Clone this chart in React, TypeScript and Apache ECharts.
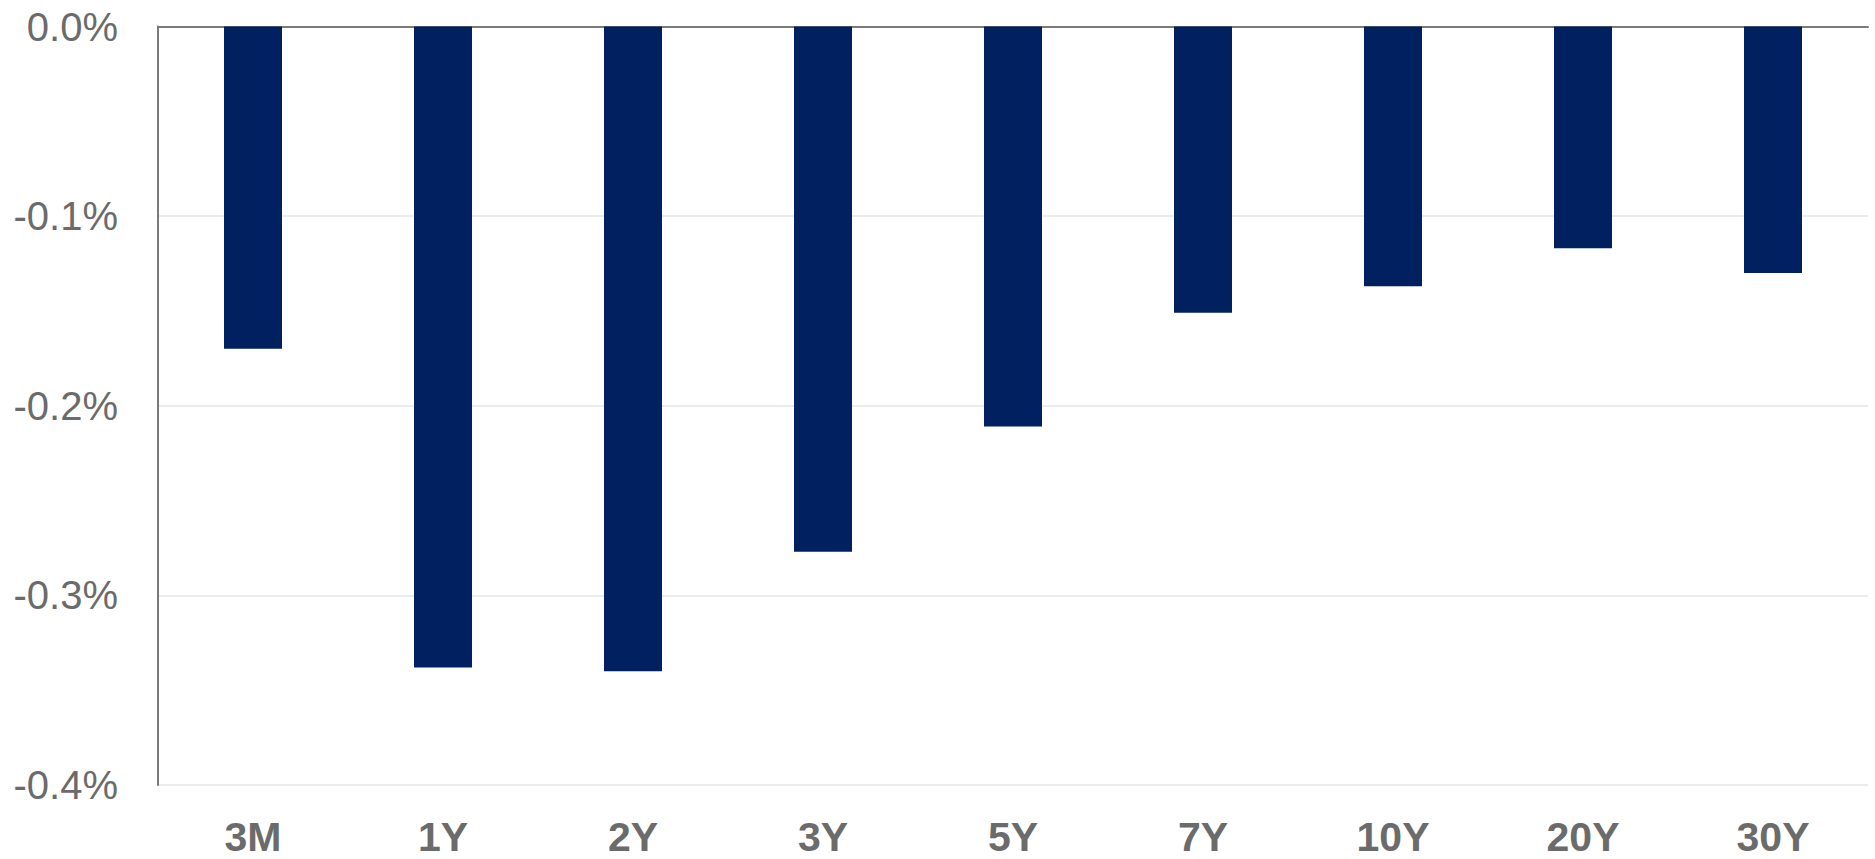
import React, { useEffect, useRef } from "react";
import * as echarts from "echarts";

const categories = ["3M", "1Y", "2Y", "3Y", "5Y", "7Y", "10Y", "20Y", "30Y"];
const changes = [-0.17, -0.338, -0.34, -0.277, -0.211, -0.151, -0.137, -0.117, -0.13];
const yMin = -0.4;
const yMax = 0;
const yStep = 0.1;

export default function App() {
  const ref = useRef<HTMLDivElement>(null);
  useEffect(() => {
    document.body.style.margin = "0";
    const chart = echarts.init(ref.current!, null, { renderer: "svg" });
    chart.setOption({
      animation: false,
      backgroundColor: "#ffffff",
      grid: { left: 158, right: 7, top: 26.5, bottom: 74, containLabel: false },
      xAxis: [
        {
          type: "category",
          data: categories,
          position: "bottom",
          axisLine: { show: false, onZero: false },
          axisTick: { show: false },
          axisLabel: {
            color: "#6b6b6b",
            fontFamily: "Liberation Sans, Arial, sans-serif",
            fontWeight: "bold",
            fontSize: 41,
            lineHeight: 40,
            margin: 32,
          },
        },
        {
          type: "category",
          data: categories,
          position: "top",
          axisLine: { show: true, onZero: false, lineStyle: { color: "#7a7a7a", width: 2 } },
          axisTick: { show: false },
          axisLabel: { show: false },
        },
      ],
      yAxis: {
        type: "value",
        min: yMin,
        max: yMax,
        interval: yStep,
        axisLine: { show: true, lineStyle: { color: "#7a7a7a", width: 2 } },
        axisTick: { show: false },
        splitLine: { show: true, lineStyle: { color: "#ebebeb", width: 2 } },
        axisLabel: {
          color: "#6b6b6b",
          fontFamily: "Liberation Sans, Arial, sans-serif",
          fontSize: 40,
          margin: 40,
          formatter: (v: number) => (Math.abs(v) < 1e-9 ? "0.0%" : v.toFixed(1) + "%"),
        },
      },
      series: [
        {
          type: "bar",
          xAxisIndex: 0,
          data: changes,
          barWidth: 58,
          itemStyle: { color: "#002060" },
        },
      ],
    });
    return () => chart.dispose();
  }, []);
  return <div ref={ref} style={{ width: 1875, height: 859 }} />;
}
